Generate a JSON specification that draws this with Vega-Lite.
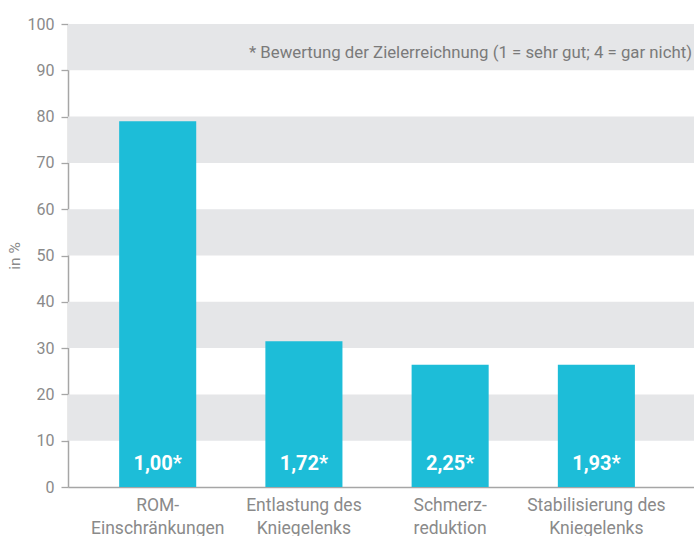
{
  "$schema": "https://vega.github.io/schema/vega-lite/v6.json",
  "width": 626,
  "height": 463,
  "autosize": {"type": "none"},
  "padding": {"left": 68, "top": 24, "right": 0, "bottom": 49},
  "background": "white",
  "config": {
    "view": {"stroke": null},
    "font": "Roboto",
    "axis": {"grid": false}
  },
  "datasets": {
    "bars": [
      {"kategorie": "ROM-|Einschränkungen", "anteil": 79, "bewertung": "1,00*"},
      {"kategorie": "Entlastung des|Kniegelenks", "anteil": 31.5, "bewertung": "1,72*"},
      {"kategorie": "Schmerz-|reduktion", "anteil": 26.4, "bewertung": "2,25*"},
      {"kategorie": "Stabilisierung des|Kniegelenks", "anteil": 26.4, "bewertung": "1,93*"}
    ],
    "bands": [
      {"von": 10, "bis": 20},
      {"von": 30, "bis": 40},
      {"von": 50, "bis": 60},
      {"von": 70, "bis": 80},
      {"von": 90, "bis": 100}
    ],
    "note": [
      {"text": "* Bewertung der Zielerreichnung (1 = sehr gut; 4 = gar nicht)", "pos": 93.8}
    ]
  },
  "layer": [
    {
      "data": {"name": "bands"},
      "mark": {"type": "rect", "color": "#e5e6e8"},
      "encoding": {
        "y": {"field": "von", "type": "quantitative", "scale": {"domain": [0, 100]}},
        "y2": {"field": "bis"}
      }
    },
    {
      "data": {"name": "note"},
      "mark": {"type": "text", "align": "right", "baseline": "middle", "fontSize": 16.8, "color": "#7a7a7a", "dx": -2},
      "encoding": {
        "x": {"value": "width"},
        "y": {"field": "pos", "type": "quantitative"},
        "text": {"field": "text"}
      }
    },
    {
      "data": {"name": "bars"},
      "mark": {"type": "bar", "color": "#1dbdd8"},
      "encoding": {
        "x": {
          "field": "kategorie", "type": "nominal", "sort": null,
          "scale": {"paddingInner": 0.473, "paddingOuter": 0.377, "align": 0.464},
          "axis": {
            "title": null, "labelAngle": 0, "ticks": false,
            "labelExpr": "split(datum.label, '|')",
            "labelFontSize": 17.5, "labelColor": "#8a8a8a", "labelPadding": 9,
            "labelLineHeight": 23,
            "domainColor": "#a6a6a6", "domainWidth": 1.5
          }
        },
        "y": {
          "field": "anteil", "type": "quantitative",
          "scale": {"domain": [0, 100]},
          "axis": {
            "title": "in %", "titleFontSize": 15.5, "titleFontWeight": "normal", "titleColor": "#8a8a8a",
            "titlePadding": 5,
            "values": [0, 10, 20, 30, 40, 50, 60, 70, 80, 90, 100],
            "labelFontSize": 16, "labelColor": "#8a8a8a", "labelPadding": 7,
            "tickSize": 7, "tickColor": "#a6a6a6", "tickWidth": 1.3,
            "domainColor": "#a6a6a6", "domainWidth": 1.5
          }
        }
      }
    },
    {
      "data": {"name": "bars"},
      "mark": {"type": "text", "color": "white", "fontWeight": "bold", "fontSize": 20, "baseline": "alphabetic", "dy": -17},
      "encoding": {
        "x": {"field": "kategorie", "type": "nominal", "sort": null},
        "y": {"datum": 0, "type": "quantitative"},
        "text": {"field": "bewertung"}
      }
    }
  ]
}
